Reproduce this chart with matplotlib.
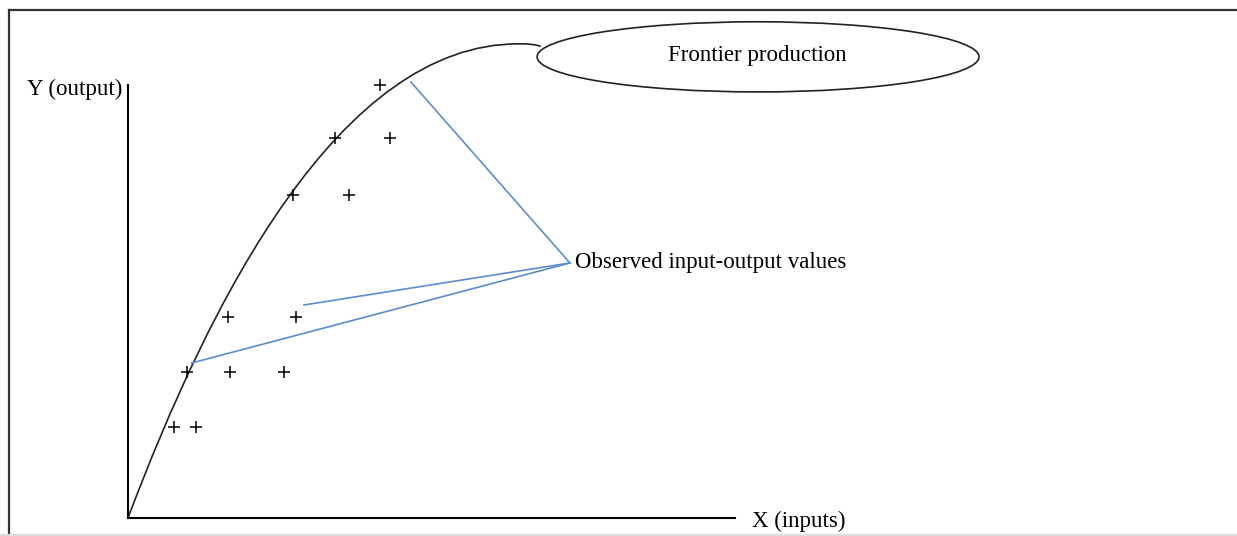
import matplotlib
matplotlib.use('Agg')
import matplotlib.pyplot as plt
from matplotlib.path import Path
from matplotlib.patches import PathPatch, Ellipse
from matplotlib.lines import Line2D

plt.rcParams['font.family'] = ['Liberation Serif', 'DejaVu Serif']

# observed firms (input, output)
obs_x = [41.5, 34.1, 43.2, 27.2, 36.4, 16.5, 27.7, 9.7, 16.8, 25.7, 7.6, 11.2]
obs_y = [100.0, 87.8, 87.8, 74.6, 74.6, 46.4, 46.4, 33.7, 33.7, 33.7, 21.0, 21.0]

# frontier drawn as bezier: start, ctrl, ctrl, peak, ctrl, end at the callout
frontier_x = [0.0, 13.5, 34.9, 64.3, 66.8, 68.0]
frontier_y = [0.0, 50.3, 109.5, 109.5, 109.6, 108.9]

# callout lines from label to points
label_pt = (72.8, 58.9)
pointer_x = [46.6, 29.0, 10.5]
pointer_y = [100.7, 49.2, 35.8]

W, H = 1237, 536
fig = plt.figure(figsize=(W / 100, H / 100), dpi=100)
ax = fig.add_axes([128 / W, 18 / H, 607 / W, 433 / H])
ax.set_xlim(0, 100)
ax.set_ylim(0, 100)
ax.set_xticks([])
ax.set_yticks([])
for s in ['top', 'right']:
    ax.spines[s].set_visible(False)
for s in ['left', 'bottom']:
    ax.spines[s].set_linewidth(1.5)
    ax.spines[s].set_color('black')

# frontier curve
verts = list(zip(frontier_x, frontier_y))
codes = [Path.MOVETO, Path.CURVE4, Path.CURVE4, Path.CURVE4, Path.CURVE3, Path.CURVE3]
ax.add_patch(PathPatch(Path(verts, codes), fill=False, ec='#222222', lw=1.2, clip_on=False))

# observations
ax.plot(obs_x, obs_y, '+', color='black', ms=9, mew=1.1, clip_on=False)

# blue callout lines
for px, py in zip(pointer_x, pointer_y):
    ax.plot([px, label_pt[0]], [py, label_pt[1]], color='#5b8ccf', lw=1.2, clip_on=False)

# ellipse callout
ax.add_patch(Ellipse((103.8, 106.5), 72.8, 16.2, fill=False, ec='#222222', lw=1.2, clip_on=False))

fs = 16.5
ax.text(103.6, 106.8, 'Frontier production', ha='center', va='center', fontsize=fs, clip_on=False)
ax.text(73.6, 59.1, 'Observed input-output values', ha='left', va='center', fontsize=fs, clip_on=False)
ax.text(-1.0, 99.0, 'Y (output)', ha='right', va='center', fontsize=fs, clip_on=False)
ax.text(102.8, -0.9, 'X (inputs)', ha='left', va='center', fontsize=fs, clip_on=False)

# outer frame
fig.add_artist(Line2D([8.5 / W, 8.5 / W], [0, 1 - 10 / H], color='#333333', lw=1.6, transform=fig.transFigure))
fig.add_artist(Line2D([8.5 / W, 1], [1 - 10 / H, 1 - 10 / H], color='#333333', lw=1.6, transform=fig.transFigure))
fig.add_artist(Line2D([0, 1], [1.2 / H, 1.2 / H], color='#dddddd', lw=1.5, transform=fig.transFigure))

fig.savefig('out.png', dpi=100)
